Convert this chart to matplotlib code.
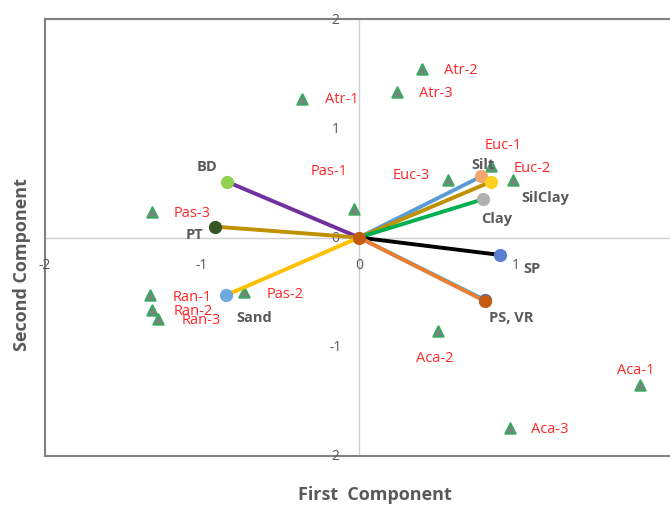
import matplotlib.pyplot as plt
import numpy as np

plt.rcParams['font.family'] = ['Open Sans', 'DejaVu Sans']

# sample scores (triangles)
samples = ["Atr-1", "Atr-2", "Atr-3", "Euc-1", "Euc-2", "Euc-3",
           "Pas-1", "Pas-2", "Pas-3", "Ran-1", "Ran-2", "Ran-3",
           "Aca-1", "Aca-2", "Aca-3"]
sample_x = [-0.36, 0.40, 0.24, 0.84, 0.98, 0.57,
            -0.03, -0.73, -1.32, -1.33, -1.32, -1.28,
            1.79, 0.50, 0.96]
sample_y = [1.27, 1.54, 1.33, 0.65, 0.53, 0.53,
            0.26, -0.50, 0.23, -0.53, -0.66, -0.75,
            -1.35, -0.86, -1.74]
# label offsets in points, label centred on offset point
sample_off = [(28, 0), (28, 0), (28, 0), (9, 16), (14, 9), (-27, 4),
              (-18, 28), (29, -1), (29, 0), (30, -1), (30, -1), (31, 0),
              (-3, 11), (-2, -19), (29, -1)]

# variable loadings (vectors)
variables = ["BD", "PT", "Sand", "Silt", "SilClay", "Clay", "SP", "PS", "VR"]
var_x = [-0.84, -0.92, -0.85, 0.78, 0.84, 0.79, 0.90, 0.80, 0.80]
var_y = [0.51, 0.10, -0.53, 0.56, 0.51, 0.35, -0.16, -0.57, -0.58]
line_col = ["#7030a0", "#bf9000", "#ffc000", "#5b9bd5", "#bf9000",
            "#00b050", "#000000", "#41b6e6", "#ed7d31"]
dot_col = ["#92d050", "#375623", "#70a8e0", "#f4a870", "#ffd020",
           "#b0b0b0", "#5b7fd0", "#4472c4", "#c55a11"]
var_labels = {"BD": (-0.97, 0.65), "PT": (-1.05, 0.03), "Sand": (-0.67, -0.73),
              "Silt": (0.79, 0.67), "SilClay": (1.19, 0.37), "Clay": (0.88, 0.18),
              "SP": (1.10, -0.28), "PS": (0.97, -0.73)}
var_texts = {"BD": "BD", "PT": "PT", "Sand": "Sand", "Silt": "Silt",
             "SilClay": "SilClay", "Clay": "Clay", "SP": "SP", "PS": "PS, VR"}

xticks = [-2, -1, 0, 1]
xtick_labels = ["-2", "-1", "0", "1"]
yticks = [2, 1, 0, -1, -2]
ytick_labels = ["2", "1", "0", "-1", "2"]

fig = plt.figure(figsize=(6.7, 5.06), dpi=100)
ax = fig.add_axes([45 / 670, 49 / 506, 628 / 670, 437 / 506])
ax.set_xlim(-2, 2)
ax.set_ylim(-2, 2)
ax.set_xticks([])
ax.set_yticks([])
for s in ["left", "top", "bottom"]:
    ax.spines[s].set_color("#808080")
    ax.spines[s].set_linewidth(1.5)
ax.spines["right"].set_visible(False)

ax.axhline(0, color="#d0d0d0", lw=1, zorder=0)
ax.axvline(0, color="#d0d0d0", lw=1, zorder=0)

for xt, lab in zip(xticks, xtick_labels):
    ax.text(xt, -0.25, lab, ha="center", va="center", fontsize=10, color="#595959")
for yt, lab in zip(yticks, ytick_labels):
    ax.text(-0.15, yt, lab, ha="center", va="center", fontsize=10, color="#595959")

# triangles
ax.scatter(sample_x, sample_y, marker="^", s=55, facecolor="#7f7f7f",
           edgecolor="#3aa860", linewidth=1.5, zorder=3)
for name, x, y, off in zip(samples, sample_x, sample_y, sample_off):
    ax.annotate(name, (x, y), xytext=off, textcoords="offset points",
                ha="center", va="center", fontsize=10.5, color="#ff2828")

# vectors
for name, x, y, lc, dc in zip(variables, var_x, var_y, line_col, dot_col):
    ax.plot([0, x], [0, y], color=lc, lw=2.8, zorder=4, solid_capstyle="round")
    ax.plot(x, y, "o", color=dc, ms=8.5, zorder=5)
ax.plot(0, 0, "o", color="#c55a11", ms=8.5, zorder=6)

for key, (tx, ty) in var_labels.items():
    ax.text(tx, ty, var_texts[key], ha="center", va="center", fontsize=10.5,
            fontweight="bold", color="#595959", zorder=7)

fig.text(375 / 670, 1 - 495 / 506, "First  Component", ha="center", va="center",
         fontsize=13, fontweight="bold", color="#595959")
fig.text(22 / 670, 1 - 265 / 506, "Second Component", ha="center", va="center",
         rotation=90, fontsize=13, fontweight="bold", color="#595959")

fig.savefig("out.png", dpi=100)
